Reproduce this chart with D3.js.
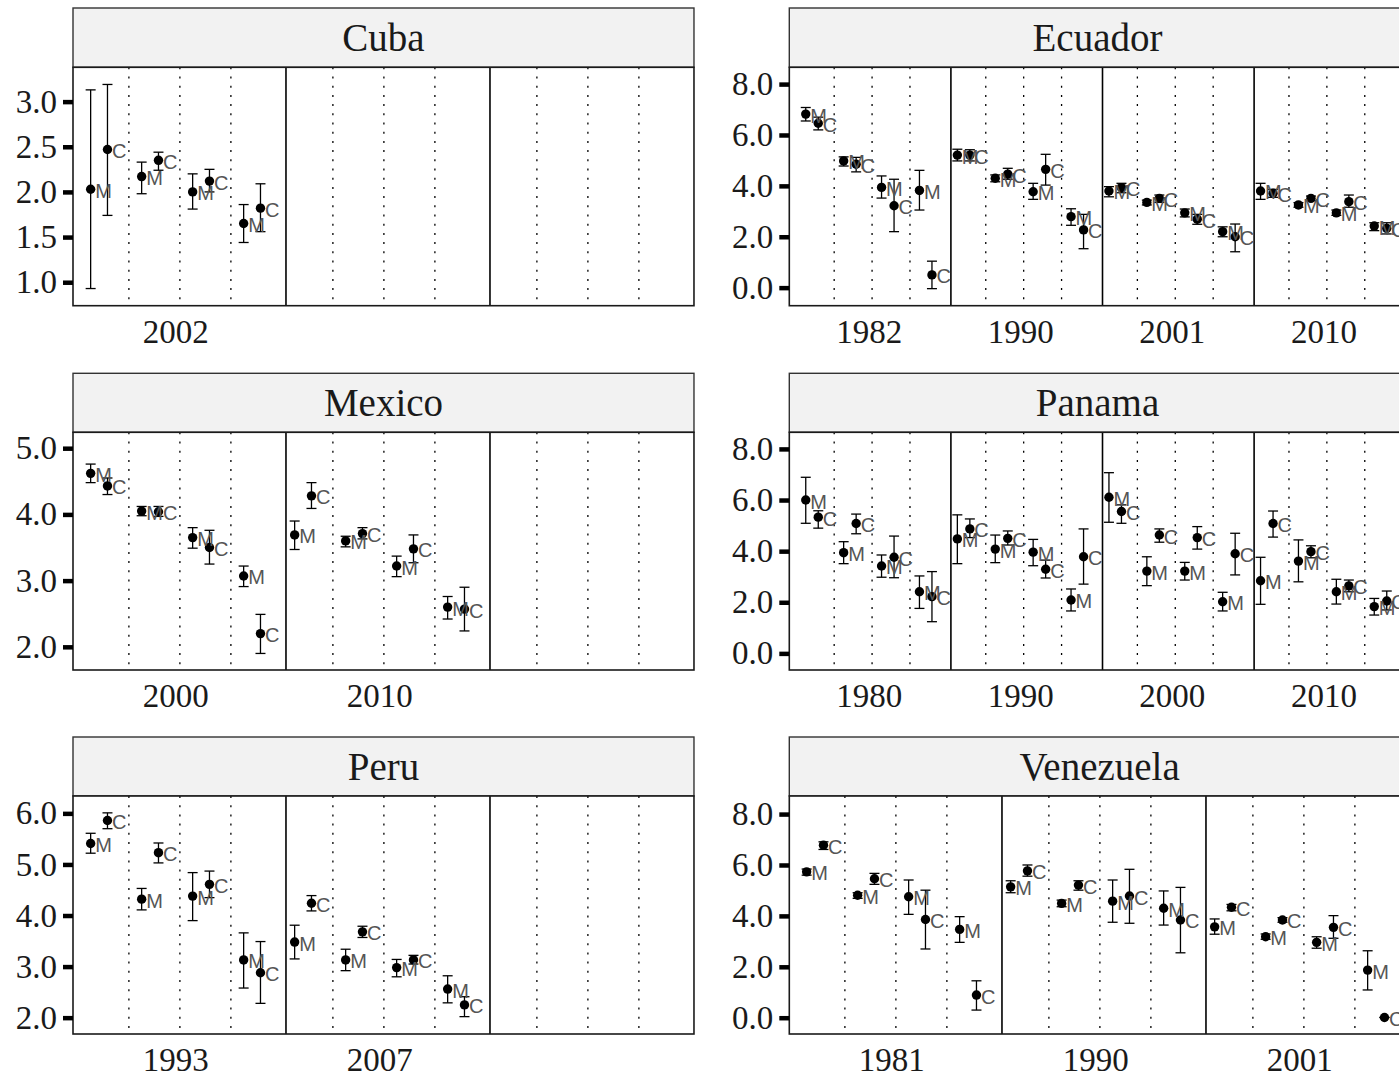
<!DOCTYPE html>
<html>
<head>
<meta charset="utf-8">
<script src="https://d3js.org/d3.v7.min.js"></script>
<style>
  html, body { margin: 0; padding: 0; background: #fff; overflow: hidden; }
  svg { display: block; }
</style>
</head>
<body>
<div id="chart"></div>
<script>
// survey years shown under each block of four groups
const cubaYears = ["2002"];
const mexicoYears = ["2000", "2010"];
const peruYears = ["1993", "2007"];
const ecuadorYears = ["1982", "1990", "2001", "2010"];
const panamaYears = ["1980", "1990", "2000", "2010"];
const venezuelaYears = ["1981", "1990", "2001"];

// [estimate, lower, upper] per group, surveys one after the other
const cubaM = [[2.03,0.93,3.13],[2.17,1.98,2.33],[2.00,1.81,2.20],[1.65,1.44,1.86]];
const cubaC = [[2.47,1.74,3.19],[2.35,2.24,2.44],[2.12,2.00,2.25],[1.82,1.56,2.09]];

const mexicoM = [[4.62,4.48,4.76],[4.05,3.98,4.12],[3.65,3.49,3.80],[3.07,2.91,3.22],
                 [3.69,3.47,3.90],[3.60,3.51,3.67],[3.22,3.06,3.37],[2.60,2.42,2.76]];
const mexicoC = [[4.43,4.30,4.55],[4.04,3.97,4.12],[3.50,3.25,3.76],[2.20,1.90,2.49],
                 [4.28,4.09,4.48],[3.71,3.63,3.80],[3.48,3.27,3.69],[2.57,2.24,2.90]];

const peruM = [[5.41,5.22,5.61],[4.32,4.11,4.53],[4.38,3.90,4.84],[3.13,2.58,3.66],
               [3.48,3.15,3.81],[3.13,2.92,3.34],[2.98,2.80,3.14],[2.56,2.29,2.82]];
const peruC = [[5.86,5.70,6.01],[5.23,5.03,5.42],[4.61,4.35,4.87],[2.88,2.28,3.49],
               [4.24,4.09,4.39],[3.68,3.57,3.79],[3.13,3.05,3.22],[2.25,2.02,2.41]];

const ecuadorM = [[6.82,6.55,7.08],[4.98,4.78,5.14],[3.94,3.52,4.39],[3.82,3.05,4.61],
                  [5.21,4.98,5.44],[4.30,4.16,4.43],[3.77,3.47,4.10],[2.79,2.45,3.10],
                  [3.80,3.57,3.97],[3.35,3.25,3.44],[2.94,2.78,3.09],[2.20,2.00,2.39],
                  [3.80,3.47,4.10],[3.25,3.16,3.34],[2.94,2.84,3.05],[2.42,2.24,2.55]];
const ecuadorC = [[6.46,6.20,6.70],[4.85,4.55,5.12],[3.22,2.20,4.26],[0.50,-0.04,1.04],
                  [5.21,4.98,5.42],[4.46,4.26,4.69],[4.65,4.03,5.24],[2.27,1.53,2.88],
                  [3.93,3.73,4.10],[3.51,3.35,3.64],[2.69,2.49,2.88],[2.00,1.41,2.50],
                  [3.71,3.55,3.86],[3.51,3.42,3.60],[3.38,3.16,3.64],[2.33,2.11,2.55]];

const panamaM = [[6.00,5.09,6.89],[3.94,3.51,4.37],[3.42,2.98,3.85],[2.41,1.76,3.03],
                 [4.48,3.51,5.42],[4.08,3.55,4.63],[3.96,3.43,4.46],[2.09,1.66,2.52],
                 [6.11,5.13,7.07],[3.22,2.65,3.78],[3.22,2.87,3.56],[2.02,1.66,2.39],
                 [2.84,1.92,3.76],[3.61,2.80,4.44],[2.41,1.93,2.90],[1.83,1.50,2.15]];
const panamaC = [[5.33,4.90,5.58],[5.08,4.68,5.45],[3.76,2.96,4.59],[2.22,1.24,3.20],
                 [4.87,4.53,5.26],[4.50,4.24,4.79],[3.29,2.95,3.65],[3.78,2.71,4.87],
                 [5.55,5.09,5.81],[4.63,4.35,4.87],[4.53,4.08,4.96],[3.90,3.07,4.70],
                 [5.08,4.55,5.57],[3.98,3.74,4.21],[2.64,2.41,2.87],[2.05,1.70,2.44]];

const venezuelaM = [[5.73,5.60,5.84],[4.81,4.69,4.91],[4.75,4.06,5.41],[3.47,2.96,3.97],
                    [5.14,4.91,5.38],[4.49,4.36,4.62],[4.58,3.75,5.41],[4.30,3.64,4.98],
                    [3.57,3.28,3.88],[3.18,3.08,3.29],[2.96,2.73,3.18],[1.87,1.09,2.63]];
const venezuelaC = [[6.78,6.61,6.91],[5.46,5.24,5.67],[3.86,2.70,5.01],[0.89,0.30,1.45],
                    [5.77,5.56,6.00],[5.21,5.01,5.38],[4.78,3.71,5.83],[3.84,2.55,5.12],
                    [4.34,4.20,4.45],[3.84,3.75,3.93],[3.55,3.12,4.01],[0.01,0.01,0.01]];

const cubaTicks = [1.0, 1.5, 2.0, 2.5, 3.0];
const mexicoTicks = [2, 3, 4, 5];
const peruTicks = [2, 3, 4, 5, 6];
const rightTicks = [0, 2, 4, 6, 8];

// layout
const w = 1399, h = 1078;
const stripTop = [8, 373.3, 737];
const panelTop = [67.3, 432.3, 796];
const panelBottom = [305.7, 670, 1034];
const colX = [73, 789.3];

const panels = [
  {name: "Cuba", years: cubaYears, M: cubaM, C: cubaC, slots: 3, row: 0, col: 0, unit: 51, pad: 0.176, yDom: [0.74, 3.38], ticks: cubaTicks},
  {name: "Ecuador", years: ecuadorYears, M: ecuadorM, C: ecuadorC, slots: 4, row: 0, col: 1, unit: 37.9, pad: 0.264, yDom: [-0.71, 8.66], ticks: rightTicks},
  {name: "Mexico", years: mexicoYears, M: mexicoM, C: mexicoC, slots: 3, row: 1, col: 0, unit: 51, pad: 0.176, yDom: [1.65, 5.24], ticks: mexicoTicks},
  {name: "Panama", years: panamaYears, M: panamaM, C: panamaC, slots: 4, row: 1, col: 1, unit: 37.9, pad: 0.264, yDom: [-0.65, 8.65], ticks: rightTicks},
  {name: "Peru", years: peruYears, M: peruM, C: peruC, slots: 3, row: 2, col: 0, unit: 51, pad: 0.176, yDom: [1.68, 6.34], ticks: peruTicks},
  {name: "Venezuela", years: venezuelaYears, M: venezuelaM, C: venezuelaC, slots: 3, row: 2, col: 1, unit: 51, pad: 0.17, yDom: [-0.64, 8.71], ticks: rightTicks}
];

const serif = "'Liberation Serif', 'Times New Roman', serif";
const sans = "'Liberation Sans', Arial, sans-serif";

const svg = d3.select("#chart").append("svg")
  .attr("width", w)
  .attr("height", h);

panels.forEach(function(p) {
  const x0 = colX[p.col];
  const nUnits = p.slots * 4;
  const x1 = x0 + (nUnits + p.pad) * p.unit;
  const top = panelTop[p.row], bottom = panelBottom[p.row];

  const xScale = d3.scaleLinear().domain([-p.pad, nUnits]).range([x0, x1]);
  const yScale = d3.scaleLinear().domain(p.yDom).range([bottom, top]);

  const g = svg.append("g");

  // strip
  g.append("rect")
    .attr("x", x0).attr("y", stripTop[p.row])
    .attr("width", x1 - x0).attr("height", top - stripTop[p.row])
    .attr("fill", "#f2f2f2").attr("stroke", "#333").attr("stroke-width", 1.4);
  g.append("text")
    .attr("x", (x0 + x1) / 2)
    .attr("y", (stripTop[p.row] + top) / 2 + 13)
    .attr("text-anchor", "middle")
    .style("font-family", serif).style("font-size", "39px").attr("fill", "#1a1a1a")
    .text(p.name);

  // panel background
  g.append("rect")
    .attr("x", x0).attr("y", top)
    .attr("width", x1 - x0).attr("height", bottom - top)
    .attr("fill", "#fff");

  // dotted separators between groups, solid between surveys
  const dotted = [], solid = [];
  for (let s = 0; s < p.slots; s++) {
    for (let k = 0; k < 3; k++) dotted.push(s * 4 + k + 0.92);
    if (s > 0) solid.push(s * 4);
  }
  g.selectAll(".dot-line").data(dotted).enter().append("line")
    .attr("x1", (d) => xScale(d)).attr("x2", (d) => xScale(d))
    .attr("y1", top).attr("y2", bottom)
    .attr("stroke", "#000").attr("stroke-width", 1.3)
    .attr("stroke-dasharray", "2,7.2");
  g.selectAll(".solid-line").data(solid).enter().append("line")
    .attr("x1", (d) => xScale(d)).attr("x2", (d) => xScale(d))
    .attr("y1", top).attr("y2", bottom)
    .attr("stroke", "#000").attr("stroke-width", 1.6);

  // points: M at group + 0.17, C at group + 0.5
  const pts = [];
  p.M.forEach((d, i) => pts.push({pos: i + 0.17, v: d[0], lo: d[1], hi: d[2], lab: "M"}));
  p.C.forEach((d, i) => pts.push({pos: i + 0.5, v: d[0], lo: d[1], hi: d[2], lab: "C"}));

  const eb = g.selectAll(".eb").data(pts).enter().append("g")
    .attr("stroke", "#000").attr("stroke-width", 1.3);
  eb.append("line")
    .attr("x1", (d) => xScale(d.pos)).attr("x2", (d) => xScale(d.pos))
    .attr("y1", (d) => yScale(d.lo)).attr("y2", (d) => yScale(d.hi));
  eb.append("line")
    .attr("x1", (d) => xScale(d.pos) - 5).attr("x2", (d) => xScale(d.pos) + 5)
    .attr("y1", (d) => yScale(d.lo)).attr("y2", (d) => yScale(d.lo));
  eb.append("line")
    .attr("x1", (d) => xScale(d.pos) - 5).attr("x2", (d) => xScale(d.pos) + 5)
    .attr("y1", (d) => yScale(d.hi)).attr("y2", (d) => yScale(d.hi));

  g.selectAll("circle").data(pts).enter().append("circle")
    .attr("cx", (d) => xScale(d.pos))
    .attr("cy", (d) => yScale(d.v))
    .attr("r", 4.7)
    .attr("fill", "#000");

  g.selectAll(".lab").data(pts).enter().append("text")
    .attr("x", (d) => xScale(d.pos) + 4.5)
    .attr("y", (d) => yScale(d.v) + 8.5)
    .style("font-family", sans).style("font-size", "20px")
    .attr("fill", "#555")
    .text((d) => d.lab);

  // panel border
  g.append("rect")
    .attr("x", x0).attr("y", top)
    .attr("width", x1 - x0).attr("height", bottom - top)
    .attr("fill", "none").attr("stroke", "#1a1a1a").attr("stroke-width", 1.6);

  // y axis
  const yAxis = d3.axisLeft(yScale)
    .tickValues(p.ticks)
    .tickSize(10)
    .tickPadding(6)
    .tickFormat(d3.format(".1f"));
  const ya = g.append("g")
    .attr("transform", "translate(" + x0 + ",0)")
    .call(yAxis);
  ya.select(".domain").remove();
  ya.selectAll(".tick line").attr("stroke", "#000").attr("stroke-width", 4.5);
  ya.selectAll(".tick text")
    .style("font-family", serif).style("font-size", "33px").attr("fill", "#1a1a1a");

  // x axis: one label per survey, at the middle of its groups
  const xTicks = p.years.map((y, s) => s * 4 + 1.83);
  const xAxis = d3.axisBottom(xScale)
    .tickValues(xTicks)
    .tickSize(0)
    .tickPadding(0)
    .tickFormat((d, i) => p.years[i]);
  const xa = g.append("g")
    .attr("transform", "translate(0," + bottom + ")")
    .call(xAxis);
  xa.select(".domain").remove();
  xa.selectAll(".tick text")
    .attr("y", 37).attr("dy", null)
    .style("font-family", serif).style("font-size", "33px").attr("fill", "#1a1a1a");
});
</script>
</body>
</html>
